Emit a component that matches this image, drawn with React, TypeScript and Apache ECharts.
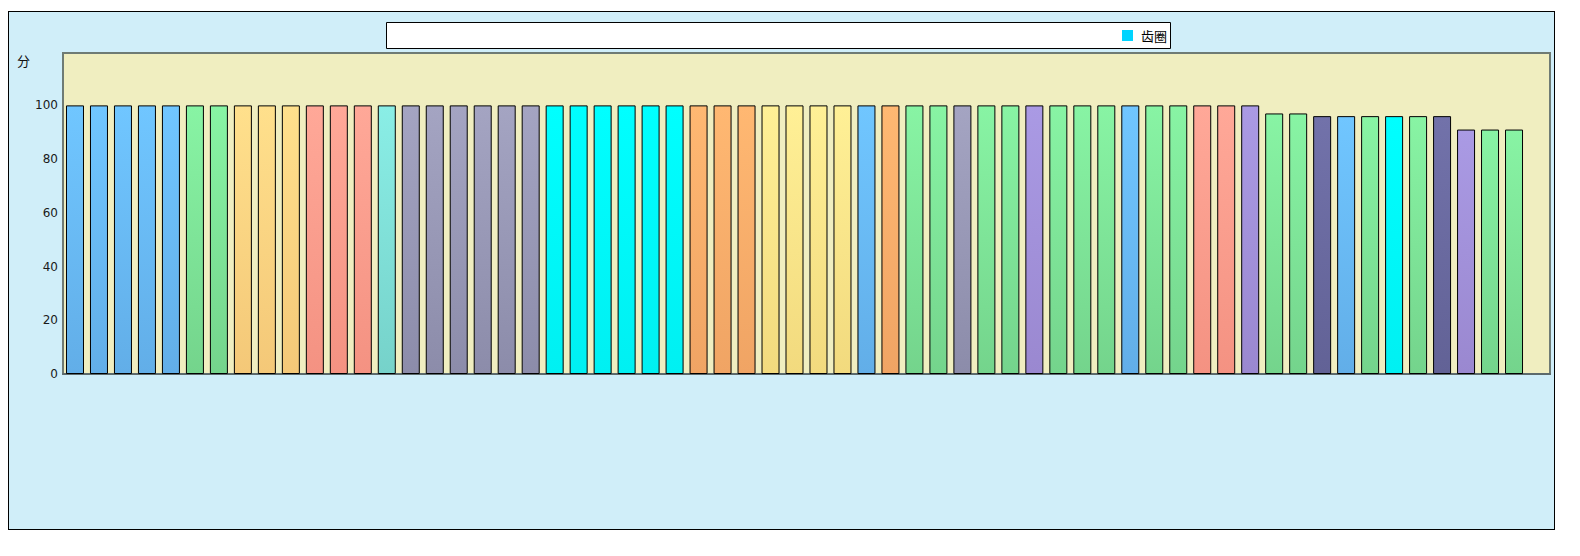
import React, { useEffect, useRef } from "react";
import * as echarts from "echarts";

// ---- data ----
const categories = [
  "1", "2", "3", "4", "5", "6", "7", "8", "9", "10",
  "11", "12", "13", "14", "15", "16", "17", "18", "19", "20",
  "21", "22", "23", "24", "25", "26", "27", "28", "29", "30",
  "31", "32", "33", "34", "35", "36", "37", "38", "39", "40",
  "41", "42", "43", "44", "45", "46", "47", "48", "49", "50",
  "51", "52", "53", "54", "55", "56", "57", "58", "59", "60",
  "61", "62",
];

const scores = [
  100, 100, 100, 100, 100, 100, 100, 100, 100, 100,
  100, 100, 100, 100, 100, 100, 100, 100, 100, 100,
  100, 100, 100, 100, 100, 100, 100, 100, 100, 100,
  100, 100, 100, 100, 100, 100, 100, 100, 100, 100,
  100, 100, 100, 100, 100, 100, 100, 100, 100, 100,
  97, 97, 96, 96, 96, 96, 96, 96, 91, 91,
  91, null,
];

const groups = [
  "blue", "blue", "blue", "blue", "blue", "green", "green", "yellowOrange", "yellowOrange", "yellowOrange",
  "salmon", "salmon", "salmon", "turquoise", "grayPurple", "grayPurple", "grayPurple", "grayPurple", "grayPurple", "grayPurple",
  "cyan", "cyan", "cyan", "cyan", "cyan", "cyan", "orange", "orange", "orange", "yellow",
  "yellow", "yellow", "yellow", "blue", "orange", "green", "green", "grayPurple", "green", "green",
  "purple", "green", "green", "green", "blue", "green", "green", "salmon", "salmon", "purple",
  "green", "green", "darkSlate", "blue", "green", "cyan", "green", "darkSlate", "purple", "green",
  "green", null,
];

const yTicks = { min: 0, max: 119.5, interval: 20 };
const legendNames = ["齿圈"];
const yAxisTitle = "分";

// ---- styles ----
const groupColors: Record<string, [string, string]> = {
  blue: ["#70c6ff", "#62aee8"],
  green: ["#88f4a4", "#74d48c"],
  yellowOrange: ["#ffe08c", "#f4c878"],
  salmon: ["#ffa898", "#f49282"],
  turquoise: ["#8aeee6", "#76d2ca"],
  grayPurple: ["#a4a4c2", "#8c8caa"],
  cyan: ["#00ffff", "#00f0f2"],
  orange: ["#ffb872", "#f0a464"],
  yellow: ["#fff096", "#f2da7e"],
  purple: ["#aa9ae4", "#9a88d0"],
  darkSlate: ["#7272aa", "#626296"],
};

export default function App() {
  const ref = useRef<HTMLDivElement>(null);

  useEffect(() => {
    if (!ref.current) return;
    const chart = echarts.init(ref.current, null, { renderer: "svg" });

    const data = scores.map((v, i) => {
      const g = groups[i];
      if (v == null || g == null) return null;
      const [top, bottom] = groupColors[g];
      return {
        value: v,
        itemStyle: {
          color: new echarts.graphic.LinearGradient(0, 0, 0, 1, [
            { offset: 0, color: top },
            { offset: 1, color: bottom },
          ]),
        },
      };
    });

    chart.setOption({
      animation: false,
      backgroundColor: "#d0eef9",
      textStyle: { fontFamily: "DejaVu Sans" },
      grid: {
        left: 54,
        top: 41,
        right: 4,
        bottom: 155,
        show: true,
        backgroundColor: "#f0eec0",
        borderColor: "#6f7b74",
        borderWidth: 2,
        containLabel: false,
      },
      graphic: [
        {
          type: "rect",
          z: 0,
          shape: { x: 377.5, y: 10.5, width: 784, height: 26 },
          style: { fill: "#ffffff", stroke: "#000000", lineWidth: 1 },
        },
        {
          type: "text",
          left: 8,
          top: 42,
          style: {
            text: yAxisTitle,
            fontSize: 13,
            fontFamily: "Noto Sans CJK SC",
            fill: "#111",
          },
        },
      ],
      legend: {
        data: legendNames,
        left: 1113,
        top: 17,
        padding: 0,
        itemWidth: 11,
        itemHeight: 11,
        itemGap: 10,
        icon: "rect",
        itemStyle: { borderWidth: 0 },
        textStyle: {
          fontSize: 13,
          fontFamily: "Noto Sans CJK SC",
          color: "#000",
          padding: [0, 0, 0, 3],
        },
      },
      xAxis: {
        type: "category",
        data: categories,
        axisLine: { show: true, lineStyle: { color: "#5c6a6c", width: 2 } },
        axisTick: { show: false },
        axisLabel: { show: false },
        splitLine: { show: false },
      },
      yAxis: {
        type: "value",
        min: yTicks.min,
        max: yTicks.max,
        interval: yTicks.interval,
        axisLine: { show: false },
        axisTick: { show: false },
        splitLine: { show: false },
        axisLabel: {
          showMaxLabel: false,
          margin: 5,
          fontSize: 12,
          fontFamily: "DejaVu Sans",
          color: "#1a1a1a",
        },
      },
      series: [
        {
          name: legendNames[0],
          type: "bar",
          barWidth: 18,
          data,
          itemStyle: {
            color: "#00d4ff",
            borderColor: "#000000",
            borderWidth: 1,
          },
        },
      ],
    });

    return () => chart.dispose();
  }, []);

  return (
    <div
      style={{
        position: "absolute",
        left: 8,
        top: 11,
        border: "1px solid #000",
        width: 1545,
        height: 517,
      }}
    >
      <div ref={ref} style={{ width: 1545, height: 517 }} />
    </div>
  );
}
